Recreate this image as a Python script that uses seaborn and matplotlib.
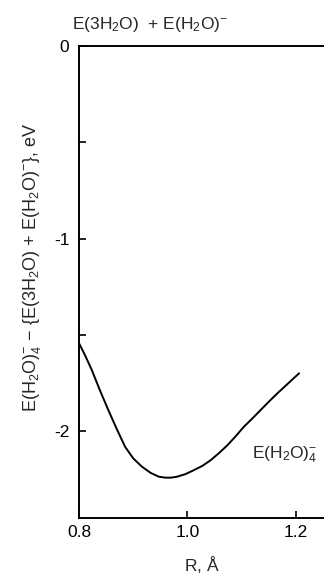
import matplotlib
matplotlib.use("Agg")
import matplotlib.pyplot as plt
import seaborn as sns
import pandas as pd

# Data
R = [0.800, 0.812, 0.8235, 0.838, 0.854, 0.870, 0.885, 0.900, 0.916, 0.932,
     0.947, 0.959, 0.970, 0.981, 0.996, 1.012, 1.028, 1.043, 1.058, 1.074,
     1.089, 1.104, 1.120, 1.135, 1.150, 1.166, 1.186, 1.206]
E = [-1.544, -1.612, -1.683, -1.785, -1.891, -1.992, -2.082, -2.142, -2.185,
     -2.217, -2.237, -2.242, -2.242, -2.237, -2.224, -2.203, -2.180, -2.151,
     -2.115, -2.073, -2.027, -1.978, -1.934, -1.891, -1.848, -1.804, -1.752,
     -1.700]
x_ticks = [0.8, 1.0, 1.2]
x_tick_labels = ["0.8", "1.0", "1.2"]
y_ticks = [0, -1, -2]
y_tick_labels = ["0", "-1", "-2"]
y_minor = [-0.5, -1.5]

sns.set_style("ticks")
plt.rcParams['font.family'] = ['Liberation Sans', 'DejaVu Sans']
plt.rcParams['mathtext.fontset'] = 'custom'
plt.rcParams['mathtext.rm'] = 'Liberation Sans'
plt.rcParams['mathtext.it'] = 'Liberation Sans'

df = pd.DataFrame({"R": R, "E": E})

fig = plt.figure(figsize=(3.24, 5.75), dpi=100)
ax = fig.add_axes([0.244, 0.099, 0.756, 0.821])
sns.lineplot(data=df, x="R", y="E", ax=ax, color="black", linewidth=1.4)

ax.set_xlim(0.8, 1.252)
ax.set_ylim(-2.452, 0)
ax.set_xticks(x_ticks)
ax.set_xticklabels(x_tick_labels)
ax.set_yticks(y_ticks)
ax.set_yticklabels(y_tick_labels)
ax.set_yticks(y_minor, minor=True)
ax.tick_params(axis="both", which="both", direction="in", length=5, width=1.2,
               labelsize=12.5, colors="black")
ax.tick_params(axis="y", pad=7)
ax.tick_params(axis="x", pad=5)

for s in ["left", "bottom", "top"]:
    ax.spines[s].set_visible(True)
    ax.spines[s].set_linewidth(1.4)
    ax.spines[s].set_color("black")
ax.spines["right"].set_visible(False)

ax.set_xlabel(r"R, $\mathrm{\AA}$", fontsize=12.5, labelpad=10)
ax.set_ylabel(r"E(H$_2$O)$_4^{-}$ $-$ {E(3H$_2$O) + E(H$_2$O)$^{-}$}, eV",
              fontsize=13)
ax.yaxis.set_label_coords(-0.148, 0.53)

ax.text(-0.03, 1.025, r"E(3H$_2$O)  + E(H$_2$O)$^{-}$", transform=ax.transAxes,
        ha="left", va="bottom", fontsize=12.5)
ax.text(1.12, -2.125, r"E(H$_2$O)$_4^{-}$", ha="left", va="center", fontsize=12.5)

fig.savefig("out.png", dpi=100)
